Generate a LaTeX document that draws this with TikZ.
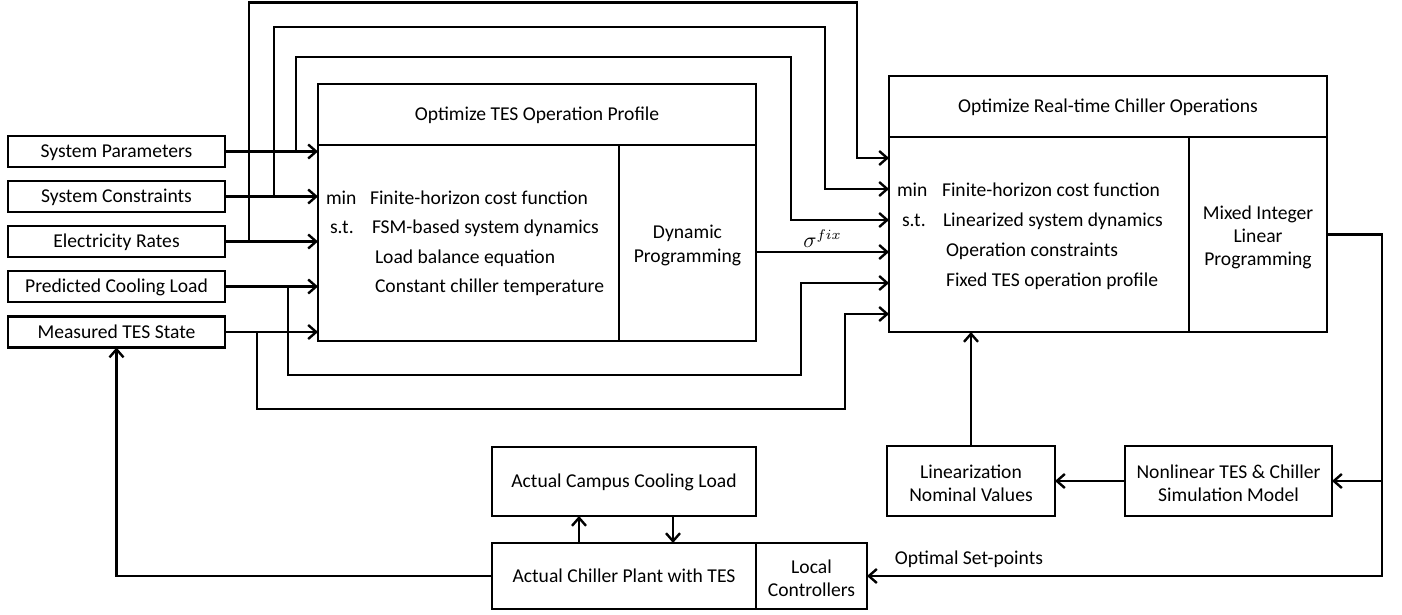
\documentclass[tikz,border=0pt]{standalone}
\usepackage{fontspec}
\setmainfont{Carlito}
\usetikzlibrary{arrows.meta,calc}
\newcommand{\dfont}{\fontsize{9.8pt}{11.6pt}\selectfont}
\begin{document}
\begin{tikzpicture}[x=0.5pt,y=-0.5pt,
  box/.style={draw, line width=1.2pt, inner sep=0pt, outer sep=0pt, align=center, font=\dfont},
  one/.style={text height=8.3pt, text depth=2pt},
  txt/.style={inner sep=0pt, outer sep=0pt, align=center, font=\dfont},
  ln/.style={line width=1.2pt},
  arr/.style={line width=1.2pt, -{Straight Barb[length=4pt,width=7pt]}}]
\useasboundingbox (0,0) rectangle (1402,615);
% left input boxes
\node[box, one, minimum width=108.5pt, minimum height=15.5pt] (sp)  at (116.5,151.5) {System Parameters};
\node[box, one, minimum width=108.5pt, minimum height=15.5pt] (sc)  at (116.5,196.5) {System Constraints};
\node[box, one, minimum width=108.5pt, minimum height=15.5pt] (er)  at (116.5,241.5) {Electricity Rates};
\node[box, one, minimum width=108.5pt, minimum height=15.5pt] (pcl) at (116.5,286.5) {Predicted Cooling Load};
\node[box, one, minimum width=108.5pt, minimum height=15.5pt] (mts) at (116.5,332) {Measured TES State};
% TES optimizer
\node[box, one, minimum width=219pt, minimum height=30.5pt] (testitle) at (537,114.5) {Optimize TES Operation Profile};
\node[box, minimum width=219pt, minimum height=98pt] (tesbody) at (537,243) {};
\node[box, minimum width=68.5pt, minimum height=98pt] (tesdp) at (687.5,243) {};
\node[txt] (tesdpt) at (687.5,245.5) {Dynamic\\Programming};
\node[txt, anchor=base west] (ta1) at (326,204) {min};
\node[txt, anchor=base west] (tb1) at (370,204) {Finite-horizon cost function};
\node[txt, anchor=base west] (ta2) at (330,233) {s.t.};
\node[txt, anchor=base west] (tb2) at (372,233) {FSM-based system dynamics};
\node[txt, anchor=base west] (tb3) at (375,263) {Load balance equation};
\node[txt, anchor=base west] (tb4) at (375,292) {Constant chiller temperature};
% Real-time optimizer
\node[box, one, minimum width=219pt, minimum height=30.5pt] (rttitle) at (1108,106.5) {Optimize Real-time Chiller Operations};
\node[box, minimum width=219pt, minimum height=97.5pt] (rtbody) at (1108,234.5) {};
\node[box, minimum width=69pt, minimum height=97.5pt] (milp) at (1258,234.5) {};
\node[txt] (milpt) at (1258,237.5) {Mixed Integer\\Linear\\Programming};
\node[txt, anchor=base west] (ra1) at (897,196) {min};
\node[txt, anchor=base west] (rb1) at (942,196) {Finite-horizon cost function};
\node[txt, anchor=base west] (ra2) at (902,226) {s.t.};
\node[txt, anchor=base west] (rb2) at (943,226) {Linearized system dynamics};
\node[txt, anchor=base west] (rb3) at (946,256) {Operation constraints};
\node[txt, anchor=base west] (rb4) at (946,286) {Fixed TES operation profile};
% bottom boxes
\node[box, one, minimum width=132pt, minimum height=34.5pt] (campus) at (624,481.5) {Actual Campus Cooling Load};
\node[box, one, minimum width=132pt, minimum height=33pt] (plant) at (624,576) {Actual Chiller Plant with TES};
\node[box, minimum width=55.5pt, minimum height=33pt] (lc) at (811.5,576) {};
\node[txt] (lct) at (811.5,578) {Local\\Controllers};
\node[box, minimum width=84pt, minimum height=35pt] (lin) at (971,481) {};
\node[txt] (lint) at (971,483) {Linearization\\Nominal Values};
\node[box, minimum width=103.5pt, minimum height=35pt] (nl) at (1228.5,481) {};
\node[txt] (nlt) at (1228.5,483) {Nonlinear TES \& Chiller\\Simulation Model};
% inputs to TES optimizer
\foreach \n in {sp,sc,er,pcl,mts} \draw[arr] (\n.east) -- (\n.east -| tesbody.west);
% inputs routed to real-time optimizer
\draw[arr] ($(er.east)+(24,0)$)  |- (857,2.5) |- ($(rtbody.north west)+(0,21)$);
\draw[arr] ($(sc.east)+(49,0)$)  |- (825,27)  |- ($(rtbody.north west)+(0,52)$);
\draw[arr] ($(sp.east)+(71,0)$)  |- (791,57)  |- ($(rtbody.north west)+(0,83)$);
\draw[arr] ($(pcl.east)+(63,0)$) |- (801,375) |- ($(rtbody.north west)+(0,146)$);
\draw[arr] ($(mts.east)+(32,0)$) |- (845,409) |- ($(rtbody.north west)+(0,177)$);
% sigma fix
\draw[arr] ($(tesdp.east)+(0,9)$) -- node[midway, above=1.5pt, inner sep=0pt, font=\fontsize{10.5pt}{12pt}\selectfont] (sig) {$\sigma^{fix}$} ($(rtbody.north west)+(0,115)$);
% lower loop
\draw[arr] (lin.north) -- (lin.north |- rtbody.south);
\draw[arr] (nl.west) -- (lin.east);
\draw[arr] (milp.east) -| ($(lc.east)+(515,0)$) -- (lc.east);
\draw[arr] ($(nl.east)+(50,0)$) -- (nl.east);
\node[txt] (osp) at (969,559) {Optimal Set-points};
\draw[arr] ($(plant.north)+(-45,0)$) -- ($(campus.south)+(-45,0)$);
\draw[arr] ($(campus.south)+(49,0)$) -- ($(plant.north)+(49,0)$);
\draw[arr] (plant.west) -| (mts.south);
\end{tikzpicture}
\end{document}
